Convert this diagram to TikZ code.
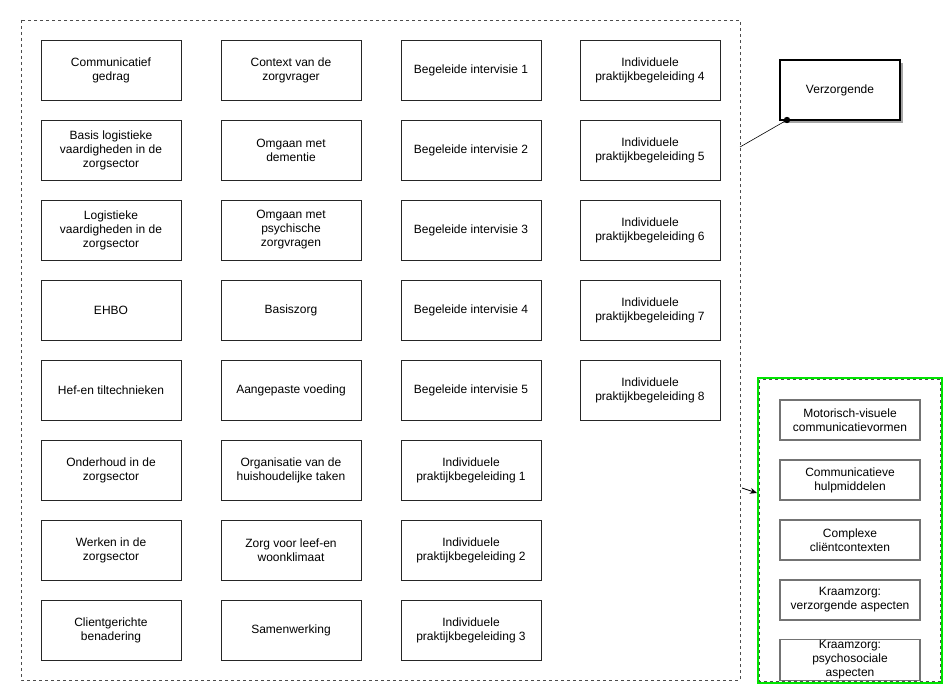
\documentclass[tikz,border=0pt]{standalone}
\usepackage{fontspec}
\setmainfont{Liberation Sans}
\usetikzlibrary{arrows.meta,shadows}
\begin{document}
\begin{tikzpicture}[x=1pt,y=-1pt,
  box/.style={draw=black!85,line width=0.6pt,minimum width=140pt,minimum height=60pt,align=center,font=\fontsize{12}{14}\selectfont,inner sep=1pt},
  sbox/.style={draw=black!55,line width=1.2pt,minimum width=140pt,minimum height=40pt,align=center,font=\fontsize{12}{14}\selectfont,inner sep=1pt},
  cont/.style={draw=black!70,dashed,line width=0.6pt}]
\useasboundingbox (0,0) rectangle (945,685);
\draw[cont] (21,20) rectangle (740,680);
\node[box] (a1) at (111,70) {Communicatief\\gedrag};
\node[box] (a2) at (111,150) {Basis logistieke\\vaardigheden in de\\zorgsector};
\node[box] (a3) at (111,230) {Logistieke\\vaardigheden in de\\zorgsector};
\node[box] (a4) at (111,310) {EHBO};
\node[box] (a5) at (111,390) {Hef-en tiltechnieken};
\node[box] (a6) at (111,470) {Onderhoud in de\\zorgsector};
\node[box] (a7) at (111,550) {Werken in de\\zorgsector};
\node[box] (a8) at (111,630) {Clientgerichte\\benadering};
\node[box] (b1) at (291,70) {Context van de\\zorgvrager};
\node[box] (b2) at (291,150) {Omgaan met\\dementie};
\node[box] (b3) at (291,230) {Omgaan met\\psychische\\zorgvragen};
\node[box] (b4) at (291,310) {Basiszorg};
\node[box] (b5) at (291,390) {Aangepaste voeding};
\node[box] (b6) at (291,470) {Organisatie van de\\huishoudelijke taken};
\node[box] (b7) at (291,550) {Zorg voor leef-en\\woonklimaat};
\node[box] (b8) at (291,630) {Samenwerking};
\node[box] (c1) at (471,70) {Begeleide intervisie 1};
\node[box] (c2) at (471,150) {Begeleide intervisie 2};
\node[box] (c3) at (471,230) {Begeleide intervisie 3};
\node[box] (c4) at (471,310) {Begeleide intervisie 4};
\node[box] (c5) at (471,390) {Begeleide intervisie 5};
\node[box] (c6) at (471,470) {Individuele\\praktijkbegeleiding 1};
\node[box] (c7) at (471,550) {Individuele\\praktijkbegeleiding 2};
\node[box] (c8) at (471,630) {Individuele\\praktijkbegeleiding 3};
\node[box] (d1) at (650,70) {Individuele\\praktijkbegeleiding 4};
\node[box] (d2) at (650,150) {Individuele\\praktijkbegeleiding 5};
\node[box] (d3) at (650,230) {Individuele\\praktijkbegeleiding 6};
\node[box] (d4) at (650,310) {Individuele\\praktijkbegeleiding 7};
\node[box] (d5) at (650,390) {Individuele\\praktijkbegeleiding 8};
\node[draw,line width=1.6pt,fill=white,minimum width=120pt,minimum height=60pt,font=\fontsize{12}{14}\selectfont,drop shadow={shadow xshift=3pt,shadow yshift=-3pt,fill=black!35,opacity=1}] (v) at (840,90) {Verzorgende};
\coordinate (p) at (740,147);
\coordinate (q) at (787,120);
\draw[line width=0.6pt] (p) -- (q);
\fill (q) circle (3.2pt);
\draw[draw=green!90!black,line width=2.4pt] (758,378) rectangle (942,683);
\draw[cont] (759.5,379.5) rectangle (940.5,681.5);
\begin{scope}
\clip (758,378) rectangle (942,683);
\node[sbox] (e1) at (850,420) {Motorisch-visuele\\communicatievormen};
\node[sbox] (e2) at (850,480) {Communicatieve\\hulpmiddelen};
\node[sbox] (e3) at (850,540) {Complexe\\cliëntcontexten};
\node[sbox] (e4) at (850,600) {Kraamzorg:\\verzorgende aspecten};
\node[sbox] (e5) at (850,660) {Kraamzorg:\\psychosociale\\aspecten};
\end{scope}
\coordinate (r) at (742,488);
\coordinate (s) at (757,493);
\draw[line width=0.8pt,-{Stealth[length=7pt,width=6pt]}] (r) -- (s);
\end{tikzpicture}
\end{document}
